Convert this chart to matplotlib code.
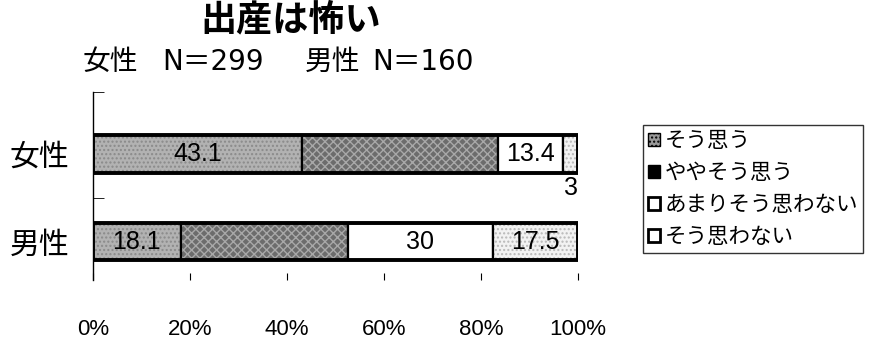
import matplotlib.pyplot as plt
import matplotlib.patches as mpatches
import numpy as np

plt.rcParams['font.family'] = ['Noto Sans CJK JP', 'DejaVu Sans']

#%% data
groups = ['女性', '男性']
answers = ['そう思う', 'ややそう思う', 'あまりそう思わない', 'そう思わない']
women = [43.1, 40.5, 13.4, 3.0]
men = [18.1, 34.4, 30.0, 17.5]
shown = [[True, False, True, True], [True, False, True, True]]

faces = ['#b2b2b2', '#6c6c6c', 'white', '#f2f2f2']
hatches = ['....', 'xxxx', '', '....']
hatch_cols = ['#8a8a8a', '#a8a8a8', 'white', '#b8b8b8']
num_font = ['Liberation Sans', 'DejaVu Sans']

#%% figure
fig = plt.figure(figsize=(8.69, 3.42), dpi=100)
ax = fig.add_axes([93 / 869, 1 - 280 / 342, 485 / 869, 188 / 342])

ypos = [1, 0]
h = 0.43
for yi, vals, lab_on in zip(ypos, [women, men], shown):
    left = 0
    for k, v in enumerate(vals):
        # textured fill first, black outline on top
        ax.barh(yi, v, left=left, height=h, color=faces[k], hatch=hatches[k],
                edgecolor=hatch_cols[k], linewidth=0)
        ax.barh(yi, v, left=left, height=h, fill=False, edgecolor='black',
                linewidth=1.6)
        if lab_on[k]:
            cx = left + v / 2
            if v < 5:
                ax.text(cx, yi - h / 2 - 0.03, f'{v:g}', ha='center', va='top',
                        fontsize=18, family=num_font)
            else:
                ax.text(cx, yi, f'{v:g}', ha='center', va='center',
                        fontsize=18, family=num_font)
        left += v
    ax.barh(yi, 100, height=h, fill=False, edgecolor='black', linewidth=2.8)

ax.set_xlim(0, 100)
ax.set_ylim(-0.44, 1.71)
for s in ['top', 'right', 'bottom']:
    ax.spines[s].set_visible(False)
ax.spines['left'].set_linewidth(1.0)

ax.set_xticks(np.arange(0, 101, 20))
ax.set_xticklabels([f'{t}%' for t in range(0, 101, 20)], fontsize=16,
                   family=num_font)
ax.tick_params(axis='x', direction='in', length=5, pad=28)

ax.set_yticks(ypos)
ax.set_yticklabels(groups, fontsize=21.5)
ax.tick_params(axis='y', which='major', length=0, pad=17)
ax.set_yticks([0.5, 1.71], minor=True)
ax.tick_params(axis='y', which='minor', direction='in', length=8)

#%% legend
handles = [mpatches.Patch(facecolor='#999999', edgecolor='black', hatch='....'),
           mpatches.Patch(facecolor='black', edgecolor='black'),
           mpatches.Patch(facecolor='white', edgecolor='black', linewidth=2),
           mpatches.Patch(facecolor='white', edgecolor='black', linewidth=2)]
leg = fig.legend(handles, answers, loc='upper left',
                 bbox_to_anchor=(643 / 869, 1 - 125 / 342), fontsize=15.5,
                 frameon=True, fancybox=False, edgecolor='black',
                 handlelength=0.55, handleheight=0.55, handletextpad=0.2,
                 labelspacing=0.46, borderpad=0.25, borderaxespad=0)
leg.get_frame().set_linewidth(1.0)

#%% titles
fig.text(291 / 869, 1 - 20 / 342, '出産は怖い', ha='center', va='center',
         fontsize=26, fontweight='bold')
sub_y = 1 - 62 / 342
for x0, s, fam in [(83, '女性', ['Noto Sans CJK JP']),
                   (162, 'N＝299', ['DejaVu Sans', 'Noto Sans CJK JP']),
                   (305, '男性', ['Noto Sans CJK JP']),
                   (372, 'N＝160', ['DejaVu Sans', 'Noto Sans CJK JP'])]:
    fig.text(x0 / 869, sub_y, s, ha='left', va='center', fontsize=20,
             family=fam)

fig.savefig('out.png', dpi=100)
